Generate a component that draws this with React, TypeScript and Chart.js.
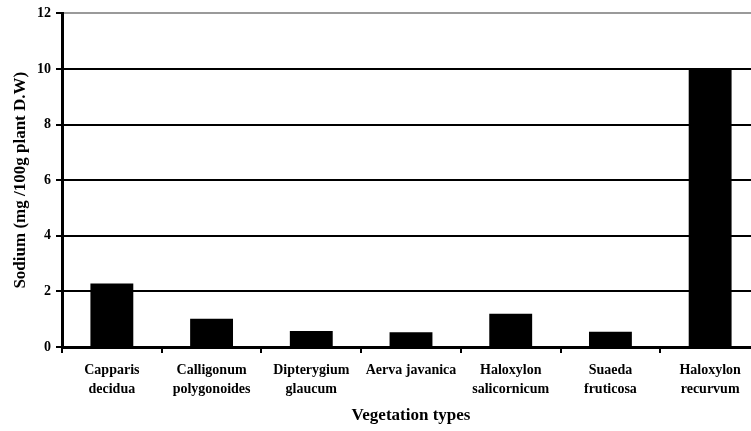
import React, { useEffect, useRef } from "react";
import { Chart, registerables } from "chart.js";

Chart.register(...registerables);

const categories: string[][] = [
  ["Capparis", "decidua"],
  ["Calligonum", "polygonoides"],
  ["Dipterygium", "glaucum"],
  ["Aerva javanica"],
  ["Haloxylon", "salicornicum"],
  ["Suaeda", "fruticosa"],
  ["Haloxylon", "recurvum"],
];
const sodiumValues: number[] = [2.28, 1.02, 0.58, 0.53, 1.2, 0.55, 9.97];
const yTicks: number[] = [0, 2, 4, 6, 8, 10, 12];

const FONT = "'Liberation Serif', 'Times New Roman', serif";

export default function App() {
  const ref = useRef<HTMLCanvasElement | null>(null);
  useEffect(() => {
    if (!ref.current) return;
    const chart = new Chart(ref.current, {
      type: "bar",
      data: {
        labels: categories,
        datasets: [
          {
            data: sodiumValues,
            backgroundColor: "#000",
            borderWidth: 0,
            barPercentage: 0.43,
            categoryPercentage: 1,
          },
        ],
      },
      options: {
        responsive: false,
        animation: false,
        layout: { padding: { top: 13, right: 10, left: 0, bottom: 0 } },
        plugins: { legend: { display: false }, tooltip: { enabled: false } },
        scales: {
          x: {
            offset: true,
            grid: {
              offset: true,
              drawOnChartArea: false,
              drawTicks: true,
              tickLength: 6,
              color: "#000",
              lineWidth: 2,
            },
            border: { display: true, color: "#000", width: 3 },
            ticks: {
              color: "#000",
              font: { family: FONT, size: 14, weight: "bold", lineHeight: 1.36 },
              padding: 8,
              maxRotation: 0,
              autoSkip: false,
            },
            title: {
              display: true,
              text: "Vegetation types",
              color: "#000",
              font: { family: FONT, size: 17, weight: "bold" },
              padding: { top: 0, bottom: 5 },
            },
            afterFit: (s: any) => {
              s.height = 84;
            },
          },
          y: {
            min: 0,
            max: 12,
            afterBuildTicks: (s: any) => {
              s.ticks = yTicks.map((v) => ({ value: v }));
            },
            grid: {
              color: (c: any) => (c.tick && c.tick.value === 12 ? "#9a9a9a" : "#000"),
              lineWidth: 2,
              tickLength: 6,
              tickColor: "#000",
            },
            border: { display: true, color: "#000", width: 3 },
            ticks: {
              color: "#000",
              font: { family: FONT, size: 14, weight: "bold" },
              padding: 5,
            },
            title: {
              display: true,
              text: "Sodium (mg /100g plant D.W)",
              color: "#000",
              font: { family: FONT, size: 17, weight: "bold" },
              padding: { top: 10, bottom: 0 },
            },
            afterFit: (s: any) => {
              s.width = 62;
            },
          },
        },
      },
    });
    return () => chart.destroy();
  }, []);
  return (
    <div
      style={{
        position: "fixed",
        left: 0,
        top: 0,
        width: 751,
        height: 431,
        overflow: "hidden",
        background: "#fff",
      }}
    >
      <canvas ref={ref} width={770} height={431} style={{ display: "block" }} />
    </div>
  );
}
